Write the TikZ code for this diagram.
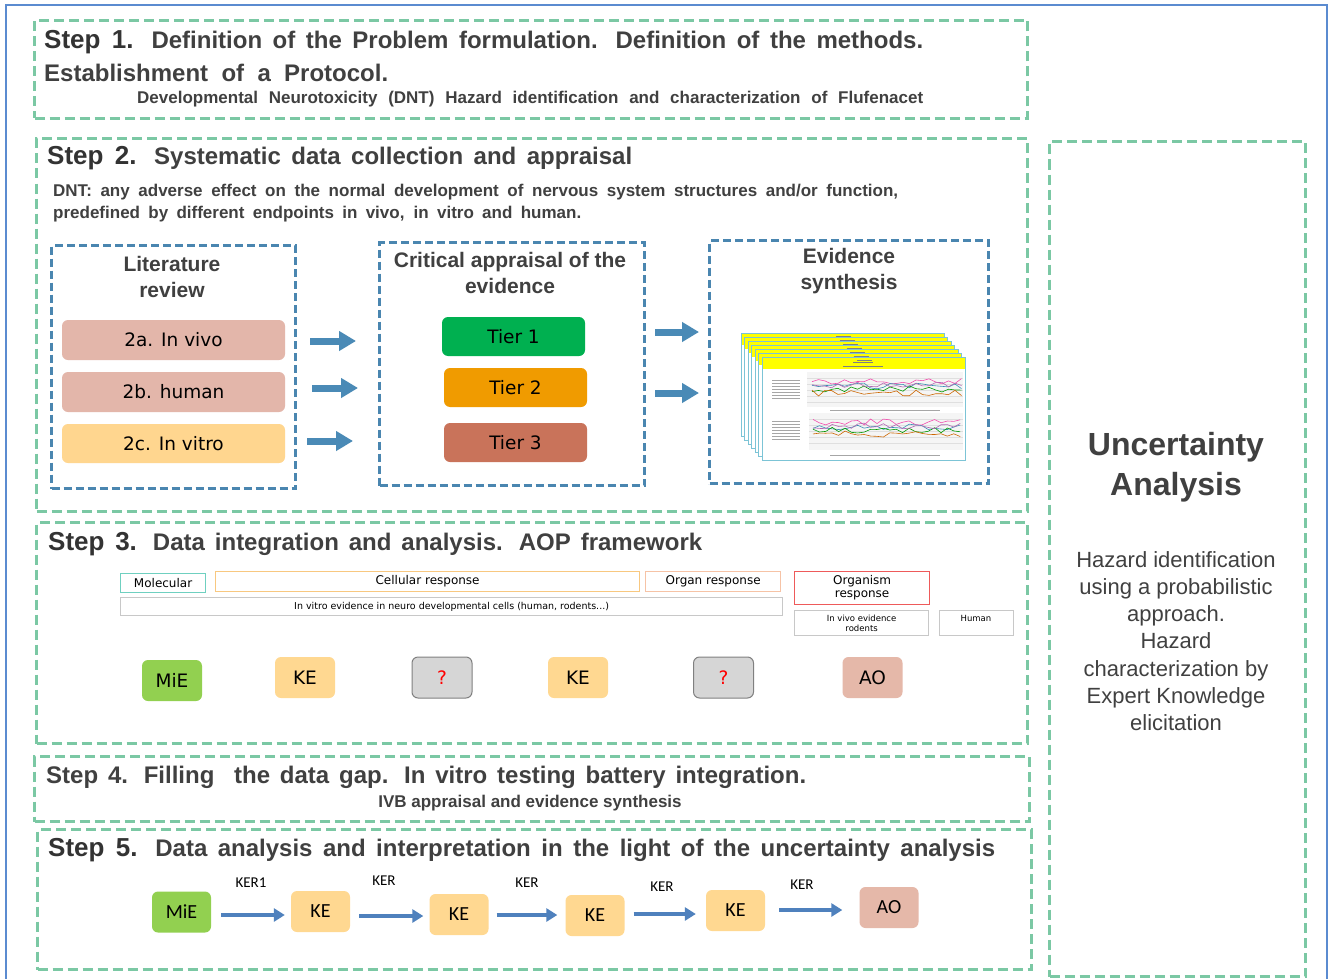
\documentclass[tikz,border=0pt]{standalone}
\usepackage{fontspec}
\setmainfont{Liberation Sans}
\newfontfamily\titfont[WordSpace=1.2]{Liberation Sans}
\newfontfamily\verd{DejaVu Sans}
\newfontfamily\carl{Carlito}
\usetikzlibrary{arrows.meta}
\definecolor{dgreen}{HTML}{7BC8A4}
\definecolor{dblue}{HTML}{4A86B0}
\definecolor{arrA}{HTML}{4A8AB6}
\definecolor{arrB}{HTML}{4F81BD}
\definecolor{outerc}{HTML}{5B8BD0}
\definecolor{txt}{HTML}{404040}
\definecolor{txtd}{HTML}{333333}
\definecolor{pinkb}{HTML}{E3B6AA}
\definecolor{lorange}{HTML}{FFD68F}
\definecolor{keb}{HTML}{FFD891}
\definecolor{mieb}{HTML}{92D050}
\definecolor{aob}{HTML}{E5B8A9}
\definecolor{qfill}{HTML}{D6D6D6}
\definecolor{qdraw}{HTML}{808080}
\definecolor{tierA}{HTML}{00B050}
\definecolor{tierB}{HTML}{F09B00}
\definecolor{tierC}{HTML}{C9735A}
\definecolor{sheetc}{HTML}{7CC4D6}
\definecolor{sheety}{HTML}{FFFF00}
\definecolor{lgray}{HTML}{C8C8C8}
\definecolor{molc}{HTML}{6FD0C0}
\definecolor{cellc}{HTML}{F8C880}
\definecolor{organc}{HTML}{F6C3A6}
\definecolor{orgismc}{HTML}{EE5A5A}
\newcommand\mkbox[6]{\node[#1, anchor=north west, inner sep=0pt, minimum width={#4-#2}, minimum height={#5-#3}] (#6) at (#2,#3) {};}
\newcommand\spread[2]{\makebox[#1][s]{#2}}
\newcommand\stp[1]{{\fontsize{26}{28}\selectfont\color{txtd}Step #1.}}
\tikzset{
  gdash/.style={draw=dgreen, line width=3pt, dash pattern=on 10pt off 5pt},
  bdash/.style={draw=dblue, line width=3pt, dash pattern=on 8pt off 4pt},
  tit/.style={font=\titfont\bfseries\fontsize{24}{27}\selectfont, text=txt, inner sep=0pt, anchor=west},
  subt/.style={font=\bfseries\fontsize{17}{19}\selectfont, text=txt, inner sep=0pt},
  head/.style={font=\bfseries\fontsize{21}{26}\selectfont, text=txt, inner sep=0pt, align=center},
  rbox/.style={rounded corners=6pt, inner sep=0pt, font=\verd\fontsize{18.5}{20}\selectfont, text=black},
  lab/.style={draw, line width=1.2pt, inner sep=0pt, anchor=north west, font=\verd\fontsize{12}{13}\selectfont, text=black, align=center},
  cbox/.style={rounded corners=6pt, inner sep=0pt, minimum width=59pt, minimum height=41pt, font=\carl\fontsize{20}{22}\selectfont, text=black},
  arrtwo/.style={arrA, line width=7pt, -{Triangle[length=17pt,width=19pt]}},
  arrfive/.style={arrB, line width=4pt, -{Triangle[length=11pt,width=13pt]}},
  kerlab/.style={font=\carl\fontsize{15}{17}\selectfont, text=black, inner sep=0pt},
}
\begin{document}
\begin{tikzpicture}[x=1pt,y=-1pt]
\useasboundingbox (0,0) rectangle (1330,979);
\fill[white] (0,0) rectangle (1330,979);
% outer frame
\draw[outerc, line width=2pt] (6,1000) -- (6,5) -- (1327,5) -- (1327,1000);

% ---------- Step 1
\mkbox{gdash}{33}{19}{1026}{117}{s1}
\node[tit] (s1a) at (44,42) {\spread{879pt}{\stp{1} Definition of the Problem formulation. Definition of the methods.}};
\node[tit] (s1b) at (44,73) {\spread{344pt}{Establishment of a Protocol.}};
\node[subt, anchor=west] (s1c) at (137,99) {\spread{786pt}{Developmental Neurotoxicity (DNT) Hazard identification and characterization of Flufenacet}};

% ---------- Step 2
\mkbox{gdash}{35}{137}{1026}{510}{s2}
\node[tit] (s2a) at (47,158) {\spread{585pt}{\stp{2} Systematic data collection and appraisal}};
\node[subt, anchor=west] (s2b) at (53,192) {\spread{845pt}{DNT: any adverse effect on the normal development of nervous system structures and/or function,}};
\node[subt, anchor=west] (s2c) at (53,214) {\spread{528pt}{predefined by different endpoints in vivo, in vitro and human.}};

\mkbox{bdash}{50}{244}{294}{487}{lit}
\node[head] (litt) at (172,277) {Literature\\review};
\node[rbox, fill=pinkb, minimum width=223pt, minimum height=40pt] (l2a) at (173.5,340) {2a. In vivo};
\node[rbox, fill=pinkb, minimum width=223pt, minimum height=40pt] (l2b) at (173.5,392) {2b. human};
\node[rbox, fill=lorange, minimum width=223pt, minimum height=39pt] (l2c) at (173.5,443.5) {2c. In vitro};

\mkbox{bdash}{378}{241}{643}{484}{crit}
\node[head] (critt) at (510,273) {Critical appraisal of the\\evidence};
\node[rbox, fill=tierA, minimum width=143pt, minimum height=39pt] (t1) at (513.5,336.5) {Tier 1};
\node[rbox, fill=tierB, minimum width=143pt, minimum height=39pt] (t2) at (515.5,387.5) {Tier 2};
\node[rbox, fill=tierC, minimum width=143pt, minimum height=39pt] (t3) at (515.5,442.5) {Tier 3};

\mkbox{bdash}{708}{239}{987}{482}{evid}
\node[head] (evidt) at (849,271) {Evidence\\synthesis};

\coordinate (a1s) at (310,341); \coordinate (a1e) at (356,341);
\coordinate (a2s) at (312,388); \coordinate (a2e) at (358,388);
\coordinate (a3s) at (307,441); \coordinate (a3e) at (353,441);
\coordinate (a4s) at (655,332); \coordinate (a4e) at (699,332);
\coordinate (a5s) at (655,393); \coordinate (a5e) at (699,393);
\draw[arrtwo] (a1s) -- (a1e);
\draw[arrtwo] (a2s) -- (a2e);
\draw[arrtwo] (a3s) -- (a3e);
\draw[arrtwo] (a4s) -- (a4e);
\draw[arrtwo] (a5s) -- (a5e);

% stack of result sheets
\foreach \i in {0,...,6} {
  \pgfmathsetmacro\xa{741+3.5*\i}
  \pgfmathsetmacro\ya{333+4*\i}
  \fill[white] (\xa,\ya) rectangle ++(203,103);
  \fill[sheety] (\xa,\ya) rectangle ++(203,12);
  \draw[sheetc, line width=0.9pt] (\xa,\ya) rectangle ++(203,103);
  \draw[gray, line width=0.3pt] (\xa+95,\ya+3) -- ++(15,0);
}
\draw[gray, line width=0.4pt] (853,362) -- (873,362) (843,366) -- (883,366);
\fill[gray!8] (807,372) rectangle (963,407);
\fill[gray!8] (809,413) rectangle (963,450);
\foreach \yy in {378,384,390,396,402} \draw[gray!25, line width=0.3pt] (807,\yy) -- (963,\yy);
\foreach \yy in {419,425,431,437,443} \draw[gray!25, line width=0.3pt] (809,\yy) -- (963,\yy);
\foreach \yy in {380,383,386,389,392,395,398} \draw[gray!70, line width=0.3pt] (772,\yy) -- (800,\yy);
\foreach \yy in {421,424,427,430,433,436,439} \draw[gray!70, line width=0.3pt] (772,\yy) -- (800,\yy);
\draw[gray!70, line width=0.3pt] (830,410) -- (940,410) (830,455) -- (940,455);
\pgfmathsetseed{7}
\foreach \c/\yy in {magenta!70/381, cyan!70!black/386, green!60!black/389, orange!80!black/393, violet!60/385} {
  \draw[\c, line width=0.6pt] plot[samples=24, domain=0:23] ({812+\x*6.5}, {\yy+3*rand});
  \draw[\c, line width=0.6pt] plot[samples=24, domain=0:23] ({813+\x*6.4}, {\yy+41+3*rand});
}

% ---------- Step 3
\mkbox{gdash}{35}{521}{1026}{742}{s3}
\node[tit] (s3a) at (48,544) {\spread{654pt}{\stp{3} Data integration and analysis. AOP framework}};
\node[lab, draw=molc, minimum width=85pt, minimum height=19pt] (mol) at (120,573) {Molecular};
\node[lab, draw=cellc, minimum width=424pt, minimum height=20pt] (cell) at (215,571) {Cellular response};
\node[lab, draw=organc, minimum width=135pt, minimum height=20pt] (organ) at (645,571) {Organ response};
\node[lab, draw=orgismc, minimum width=135pt, minimum height=33pt] (orgism) at (794,571) {Organism\\response};
\node[lab, draw=lgray, minimum width=662pt, minimum height=18pt, font=\verd\fontsize{9.5}{11}\selectfont] (invitro) at (120,597) {In vitro evidence in neuro developmental cells (human, rodents...)};
\node[lab, draw=lgray, minimum width=134pt, minimum height=25pt, font=\verd\fontsize{8.5}{9.5}\selectfont] (invivo) at (794,610) {In vivo evidence\\rodents};
\node[lab, draw=lgray, minimum width=74pt, minimum height=25pt] (humanb) at (939,610) {};
\node[font=\verd\fontsize{8.5}{9.5}\selectfont, inner sep=0pt] (humant) at (976,618) {Human};

\node[rbox, fill=mieb, minimum width=60pt, minimum height=41pt] (m3) at (172,680.5) {MiE};
\node[rbox, fill=keb, minimum width=60pt, minimum height=41pt] (k31) at (305,677.5) {KE};
\node[rbox, fill=qfill, draw=qdraw, line width=1pt, minimum width=60pt, minimum height=41pt, text=red] (q31) at (442,677.5) {?};
\node[rbox, fill=keb, minimum width=60pt, minimum height=41pt] (k32) at (578,677.5) {KE};
\node[rbox, fill=qfill, draw=qdraw, line width=1pt, minimum width=60pt, minimum height=41pt, text=red] (q32) at (723.5,677.5) {?};
\node[rbox, fill=aob, minimum width=60pt, minimum height=41pt] (ao3) at (872.5,677.5) {AO};

% ---------- Step 4
\mkbox{gdash}{33}{755}{1028}{820}{s4}
\node[tit] (s4a) at (46,777) {\spread{760pt}{Step 4. Filling\ \ the data gap. In vitro testing battery integration.}};
\node[subt] (s4b) at (530,803) {IVB appraisal and evidence synthesis};

% ---------- Step 5
\mkbox{gdash}{36}{828}{1030}{968}{s5}
\node[tit] (s5a) at (48,850) {\spread{947pt}{\stp{5} Data analysis and interpretation in the light of the uncertainty analysis}};
\node[cbox, fill=mieb] (m5) at (181.5,912) {MiE};
\node[cbox, fill=keb] (k51) at (320.5,911.5) {KE};
\node[cbox, fill=keb] (k52) at (459,914.5) {KE};
\node[cbox, fill=keb] (k53) at (595,915.5) {KE};
\node[cbox, fill=keb] (k54) at (735.5,910.5) {KE};
\node[cbox, fill=aob] (ao5) at (889,907.5) {AO};
\draw[arrfive, shorten >=6pt, shorten <=10pt] (m5.east |- 0,915) -- (k51.west |- 0,915);
\draw[arrfive, shorten >=6pt, shorten <=9pt] (k51.east |- 0,916) -- (k52.west |- 0,916);
\draw[arrfive, shorten >=8pt, shorten <=8pt] (k52.east |- 0,915) -- (k53.west |- 0,915);
\draw[arrfive, shorten >=10pt, shorten <=9pt] (k53.east |- 0,914) -- (k54.west |- 0,914);
\draw[arrfive, shorten >=17pt, shorten <=14pt] (k54.east |- 0,910) -- (ao5.west |- 0,910);
\node[kerlab] (ker1) at (251,883) {KER1};
\node[kerlab] (ker2) at (384,881) {KER};
\node[kerlab] (ker3) at (527,883) {KER};
\node[kerlab] (ker4) at (662,887) {KER};
\node[kerlab] (ker5) at (802,885) {KER};

% ---------- Uncertainty
\mkbox{gdash}{1048}{140}{1304}{975}{unc}
\node[font=\bfseries\fontsize{32}{40}\selectfont, text=txt, align=center, inner sep=0pt] (unct) at (1176,467) {Uncertainty\\Analysis};
\node[font=\fontsize{22}{27.2}\selectfont, text=txt, align=center, inner sep=0pt] (uncd) at (1176,641) {Hazard identification\\using a probabilistic\\approach.\\Hazard\\characterization by\\Expert Knowledge\\elicitation};
\end{tikzpicture}
\end{document}
